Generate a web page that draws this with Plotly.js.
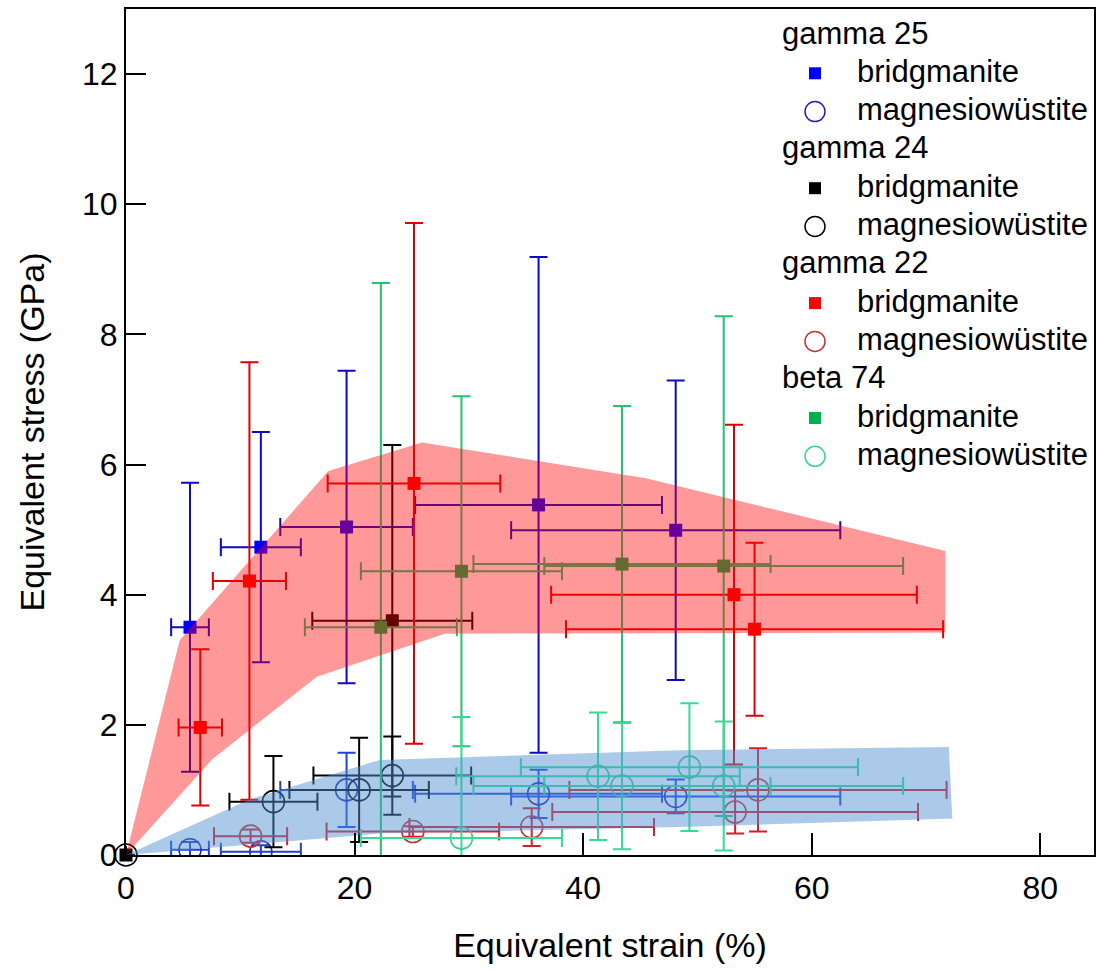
<!DOCTYPE html>
<html>
<head>
<meta charset="utf-8">
<script src="https://cdn.plot.ly/plotly-3.0.1.min.js"></script>
<style>html,body{margin:0;padding:0;background:#fff;}#chart{width:1097px;height:971px;}</style>
</head>
<body>
<div id="chart"></div>
<script>
// ---- labels ----
const groupNames = ['gamma 25', 'gamma 24', 'gamma 22', 'beta 74'];
const phaseNames = ['bridgmanite', 'magnesiowüstite'];
const xTicks = [0, 20, 40, 60, 80];
const yTicks = [0, 2, 4, 6, 8, 10, 12];
// ---- gamma 25 ----
const g25BrX = [5.6, 11.8, 19.3, 36.1, 48.1];
const g25BrY = [3.5, 4.73, 5.04, 5.38, 4.99];
const g25BrXErr = [1.65, 3.5, 5.8, 10.8, 14.4];
const g25BrYErr = [2.22, 1.77, 2.4, 3.81, 2.3];
const g25MwX = [5.6, 11.8, 19.3, 36.1, 48.1];
const g25MwY = [0.08, 0.05, 1.0, 0.94, 0.9];
const g25MwXErr = [1.65, 3.5, 5.8, 10.8, 14.4];
const g25MwYErr = [0.12, 0.1, 0.57, 0.37, 0.26];
// ---- gamma 24 ----
const g24BrX = [0, 23.3];
const g24BrY = [0, 3.6];
const g24BrXErr = [0, 7.0];
const g24BrYErr = [0, 2.7];
const g24MwX = [0, 12.9, 20.4, 23.3];
const g24MwY = [0, 0.82, 1.0, 1.22];
const g24MwXErr = [0, 3.85, 6.1, 6.9];
const g24MwYErr = [0, 0.7, 0.8, 0.6];
// ---- gamma 22 ----
const g22BrX = [6.5, 10.8, 25.2, 53.2, 55.0];
const g22BrY = [1.96, 4.21, 5.71, 4.0, 3.47];
const g22BrXErr = [1.9, 3.2, 7.55, 16.0, 16.5];
const g22BrYErr = [1.2, 3.36, 4.0, 2.61, 1.33];
const g22MwX = [10.9, 25.1, 35.5, 53.3, 55.3];
const g22MwY = [0.29, 0.36, 0.43, 0.66, 1.0];
const g22MwXErr = [3.2, 7.55, 10.7, 16.0, 16.5];
const g22MwYErr = [0.1, 0.08, 0.29, 0.33, 0.64];
// ---- beta 74 ----
const b74BrX = [22.3, 29.35, 43.4, 52.3];
const b74BrY = [3.5, 4.36, 4.47, 4.44];
const b74BrXErr = [6.65, 8.8, 13.0, 15.7];
const b74BrYErr = [5.29, 2.69, 2.43, 3.84];
const b74MwX = [29.35, 41.3, 43.4, 49.3, 52.3];
const b74MwY = [0.26, 1.21, 1.06, 1.35, 1.06];
const b74MwXErr = [8.8, 12.4, 13.0, 14.75, 15.7];
const b74MwYErr = [1.86, 0.98, 0.97, 0.98, 0.99];
// ---- envelopes ----
const brEnvX = [0, 4.7, 17.7, 25.9, 45.5, 71.7, 71.7, 27.9, 16.7, 7.6, 0];
const brEnvY = [0, 3.3, 5.9, 6.34, 5.79, 4.67, 3.42, 3.40, 2.74, 1.48, 0];
const mwEnvX = [0, 10.9, 22.2, 48.4, 72.0, 72.3, 48.4, 22.2, 0];
const mwEnvY = [0, 0.86, 1.46, 1.61, 1.66, 0.56, 0.43, 0.33, 0];

const FONT = 'Liberation Sans, Arial, sans-serif';

const series = [
  {g: 0, p: 0, x: g25BrX, y: g25BrY, xe: g25BrXErr, ye: g25BrYErr, mc: '#0000ff', ec: '#0a0ac8'},
  {g: 0, p: 1, x: g25MwX, y: g25MwY, xe: g25MwXErr, ye: g25MwYErr, mc: '#2525b0', ec: '#2040dc'},
  {g: 1, p: 0, x: g24BrX, y: g24BrY, xe: g24BrXErr, ye: g24BrYErr, mc: '#000000', ec: '#000000', noclip: true},
  {g: 1, p: 1, x: g24MwX, y: g24MwY, xe: g24MwXErr, ye: g24MwYErr, mc: '#000000', ec: '#000000', noclip: true},
  {g: 2, p: 0, x: g22BrX, y: g22BrY, xe: g22BrXErr, ye: g22BrYErr, mc: '#ff0000', ec: '#e00000'},
  {g: 2, p: 1, x: g22MwX, y: g22MwY, xe: g22MwXErr, ye: g22MwYErr, mc: '#c83232', ec: '#d81c28'},
  {g: 3, p: 0, x: b74BrX, y: b74BrY, xe: b74BrXErr, ye: b74BrYErr, mc: '#00b050', ec: '#22c472'},
  {g: 3, p: 1, x: b74MwX, y: b74MwY, xe: b74MwXErr, ye: b74MwYErr, mc: '#3ccf8e', ec: '#34dc94'}
];

function markerFor(s, legendKey) {
  if (s.p === 1) {
    return {symbol: 'circle-open', size: legendKey ? 20 : 22, color: s.mc,
            line: {width: legendKey ? 1.5 : 1.6, color: s.mc}};
  }
  return {symbol: 'square', size: legendKey ? 12 : 13, color: s.mc};
}

const data = series.map(s => ({
  type: 'scatter', mode: 'markers',
  name: groupNames[s.g] + ' ' + phaseNames[s.p],
  x: s.x, y: s.y,
  marker: markerFor(s, false),
  error_x: {type: 'data', array: s.xe, visible: true, color: s.ec, thickness: 2, width: 9},
  error_y: {type: 'data', array: s.ye, visible: true, color: s.ec, thickness: 2, width: 9},
  cliponaxis: !s.noclip,
  showlegend: false
}));

data.push({type: 'scatter', mode: 'lines', x: brEnvX, y: brEnvY, fill: 'toself',
  fillcolor: 'rgba(255,0,0,0.4)', line: {width: 0, color: 'rgba(0,0,0,0)'},
  showlegend: false, hoverinfo: 'skip'});
data.push({type: 'scatter', mode: 'lines', x: mwEnvX, y: mwEnvY, fill: 'toself',
  fillcolor: 'rgba(80,145,210,0.48)', line: {width: 0, color: 'rgba(0,0,0,0)'},
  showlegend: false, hoverinfo: 'skip'});

// ---- legend (group headings + keyed entries), laid out in rows ----
const PLOT_L = 126, PLOT_R = 1094, PLOT_T = 9, PLOT_B = 855;
const LEG_TITLE_X = 780, LEG_KEY_X = 815, LEG_TEXT_X = 855, LEG_ROW0 = 33, LEG_ROW_H = 38.3;
const px2x = px => (px - PLOT_L) / (PLOT_R - PLOT_L);
const py2y = py => (PLOT_B - py) / (PLOT_B - PLOT_T);
const annotations = [];
let row = 0;
groupNames.forEach((gName, gi) => {
  annotations.push({xref: 'paper', yref: 'paper', x: px2x(LEG_TITLE_X), y: py2y(LEG_ROW0 + row * LEG_ROW_H),
    xanchor: 'left', yanchor: 'middle', text: gName, showarrow: false,
    font: {size: 31, family: FONT, color: '#000'}});
  row++;
  series.filter(s => s.g === gi).forEach(s => {
    const yc = LEG_ROW0 + row * LEG_ROW_H;
    annotations.push({xref: 'paper', yref: 'paper', x: px2x(LEG_TEXT_X), y: py2y(yc),
      xanchor: 'left', yanchor: 'middle', text: phaseNames[s.p], showarrow: false,
      font: {size: 31, family: FONT, color: '#000'}});
    data.push({type: 'scatter', mode: 'markers', xaxis: 'x2', yaxis: 'y2',
      x: [px2x(LEG_KEY_X)], y: [py2y(yc + 2)], marker: markerFor(s, true),
      cliponaxis: false, showlegend: false, hoverinfo: 'skip'});
    row++;
  });
});

const layout = {
  width: 1097, height: 971,
  margin: {l: 126, r: 3, t: 9, b: 116, pad: 0},
  paper_bgcolor: '#fff', plot_bgcolor: '#fff',
  font: {family: FONT, color: '#000', size: 30},
  showlegend: false,
  annotations: annotations,
  xaxis: {
    range: [0, 84.7], tickvals: xTicks,
    ticks: 'inside', ticklen: 22, tickwidth: 2, tickcolor: '#000',
    showline: true, linecolor: '#000', linewidth: 2, mirror: true,
    showgrid: false, zeroline: false, ticklabelstandoff: 4,
    tickfont: {size: 32, family: FONT, color: '#000'},
    title: {text: 'Equivalent strain (%)', font: {size: 34, family: FONT, color: '#000'}, standoff: 28}
  },
  yaxis: {
    range: [0, 13], tickvals: yTicks,
    ticks: 'inside', ticklen: 20, tickwidth: 2, tickcolor: '#000',
    showline: true, linecolor: '#000', linewidth: 2, mirror: true,
    showgrid: false, zeroline: false,
    tickfont: {size: 32, family: FONT, color: '#000'},
    title: {text: 'Equivalent stress (GPa)', font: {size: 34, family: FONT, color: '#000'}, standoff: 27}
  },
  xaxis2: {overlaying: 'x', range: [0, 1], visible: false, fixedrange: true},
  yaxis2: {overlaying: 'y', range: [0, 1], visible: false, fixedrange: true}
};

Plotly.newPlot('chart', data, layout, {displayModeBar: false, staticPlot: true});
</script>
</body>
</html>
